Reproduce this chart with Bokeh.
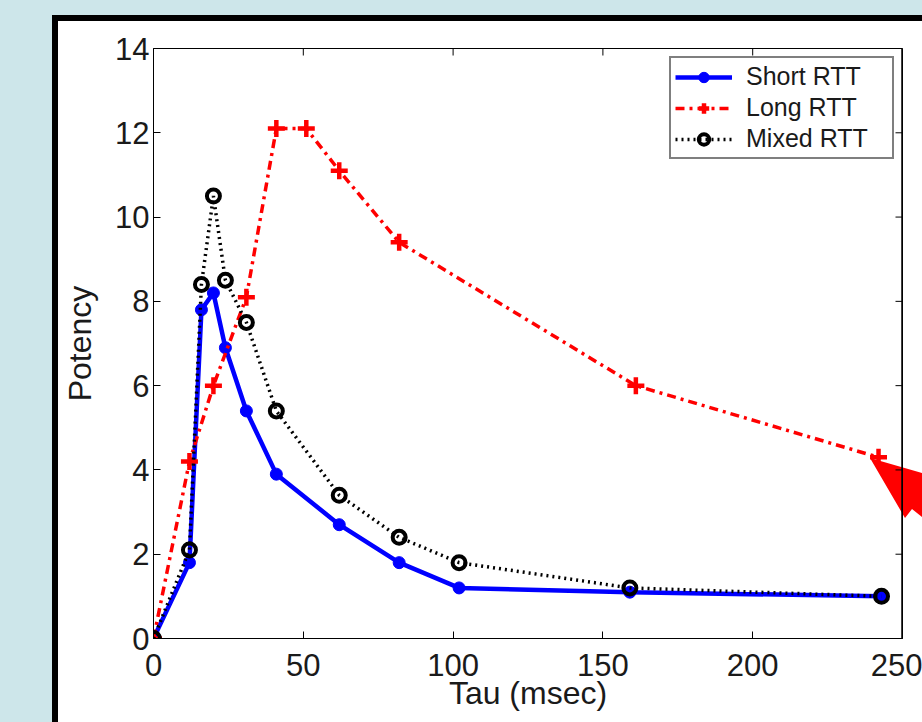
import math
from bokeh.plotting import figure
from bokeh.models import FixedTicker, Legend
from bokeh.embed import file_html
from bokeh.resources import INLINE

# ---- data ----
tau_short = [0, 12, 16, 20, 24, 31, 41, 62, 82, 102, 159, 243]
pot_short = [0, 1.8, 7.8, 8.2, 6.9, 5.4, 3.9, 2.7, 1.8, 1.2, 1.1, 1.0]

tau_long = [0, 12, 20, 31, 41, 51, 62, 82, 161, 242]
pot_long = [0, 4.2, 6.0, 8.1, 12.1, 12.1, 11.1, 9.4, 6.0, 4.3]

tau_mixed = [0, 12, 16, 20, 24, 31, 41, 62, 82, 102, 159, 243]
pot_mixed = [0, 2.1, 8.4, 10.5, 8.5, 7.5, 5.4, 3.4, 2.4, 1.8, 1.2, 1.0]

x_ticks = [0, 50, 100, 150, 200, 250]
y_ticks = [0, 2, 4, 6, 8, 10, 12, 14]
x_min, x_max = 0, 250
y_min, y_max = 0, 14

FONT = "Liberation Sans"
W, H = 922, 722
BG = "#cde6ea"

# slide decoration behind the (transparent) canvas: light background,
# black-edged white panel and the red call-out arrow
arrow_pts = "870,458 922,473 922,517 912,509 905,518"
slide_bg = (
    "url(\"data:image/svg+xml;utf8,<svg xmlns='http://www.w3.org/2000/svg' "
    f"width='{W}' height='{H}'><polygon points='{arrow_pts}' fill='red'/></svg>\") 0 0 / {W}px {H}px no-repeat, "
    "linear-gradient(white, white) 58px 21px / 100% 100% no-repeat, "
    "linear-gradient(black, black) 52px 15px / 100% 100% no-repeat, "
    f"{BG}"
)

p = figure(width=W, height=H, x_range=(x_min, x_max), y_range=(y_min, y_max),
           output_backend="svg", toolbar_location=None,
           min_border_left=153, min_border_right=W - 902, min_border_top=48, min_border_bottom=H - 638,
           background_fill_alpha=0, border_fill_alpha=0)
p.styles = {"background": slide_bg}
p.grid.visible = False
p.outline_line_color = "black"
p.outline_line_width = 1

p.xaxis.ticker = FixedTicker(ticks=x_ticks)
p.yaxis.ticker = FixedTicker(ticks=y_ticks)
for ax in list(p.xaxis) + list(p.yaxis):
    ax.major_tick_in = 7
    ax.major_tick_out = 0
    ax.minor_tick_line_color = None
    ax.axis_line_color = "black"
    ax.major_tick_line_color = "black"
    ax.major_label_text_font = FONT
    ax.major_label_text_font_size = "31px"
    ax.major_label_text_color = "#1a1a1a"
    ax.axis_label_text_font = FONT
    ax.axis_label_text_font_size = "32px"
    ax.axis_label_text_font_style = "normal"
    ax.axis_label_text_color = "#1a1a1a"

p.xaxis.axis_label = "Tau (msec)"
p.yaxis.axis_label = "Potency"
p.xaxis.major_label_standoff = 15
p.yaxis.major_label_standoff = 4
p.xaxis.axis_label_standoff = -4
p.yaxis.axis_label_standoff = 14

# inward ticks on the top and right edges of the box
p.ray(x=x_ticks, y=[y_max] * len(x_ticks), length=7, length_units="screen",
      angle=-math.pi / 2, line_color="black", line_width=1)
p.ray(x=[x_max] * len(y_ticks), y=y_ticks, length=7, length_units="screen",
      angle=math.pi, line_color="black", line_width=1)
# slightly heavier right edge of the box, as in the picture
p.ray(x=[x_max], y=[y_min], length=0, angle=math.pi / 2, line_color="black", line_width=2.5)

# ---- series ----
r1 = p.line(tau_short, pot_short, line_color="#0000ff", line_width=4.5)
s1 = p.scatter(tau_short, pot_short, marker="circle", size=12, fill_color="#0000ff", line_color="#0000ff")
r2 = p.line(tau_long, pot_long, line_color="#ff0000", line_width=3.5, line_dash="9 5 3 5")
s2 = p.scatter(tau_long, pot_long, marker="cross", size=17, line_color="#ff0000", line_width=4.5)
r3 = p.line(tau_mixed, pot_mixed, line_color="black", line_width=3.5, line_dash="2 4")
s3 = p.scatter(tau_mixed, pot_mixed, marker="circle", size=13, fill_color=None, line_color="black", line_width=4)

legend = Legend(items=[("Short RTT", [r1, s1]), ("Long RTT", [r2, s2]), ("Mixed RTT", [r3, s3])],
                location="top_right")
legend.margin = 8
legend.padding = 4
legend.spacing = 2
legend.glyph_width = 57
legend.glyph_height = 26
legend.label_standoff = 14
legend.label_width = 142
legend.label_text_font = FONT
legend.label_text_font_size = "25px"
legend.label_text_color = "#1a1a1a"
legend.border_line_color = "black"
legend.border_line_width = 2
legend.background_fill_color = "white"
legend.background_fill_alpha = 1
p.add_layout(legend)

open("out.html", "w").write(file_html(p, INLINE))
